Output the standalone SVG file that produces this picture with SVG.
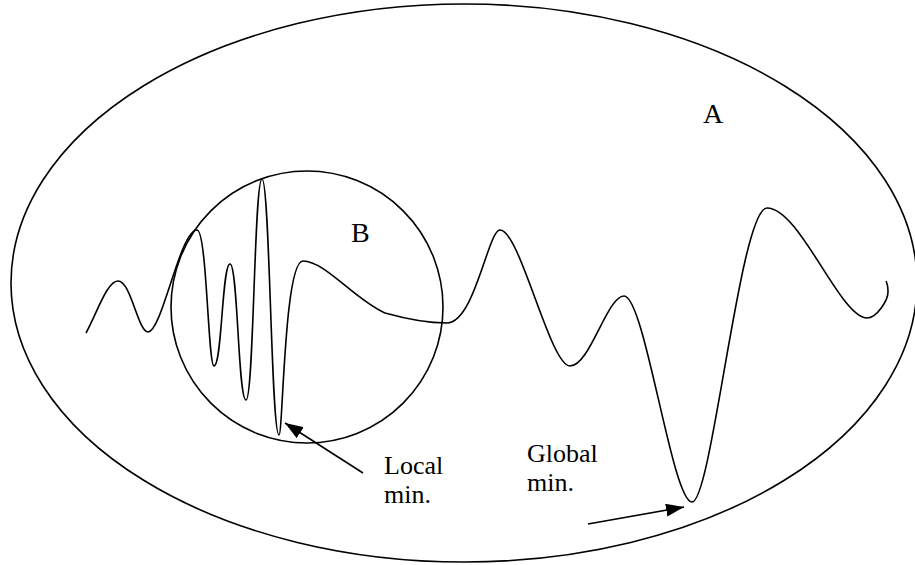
<svg xmlns="http://www.w3.org/2000/svg" width="915" height="565" viewBox="0 0 915 565">
<style>
.shape{fill:none;stroke:#000;stroke-width:1.6}
.lbl{font-family:"Liberation Serif","Times New Roman",serif;font-size:26px;fill:#000}
.big{font-size:28px}
.conn{stroke:#000;stroke-width:1.6;fill:none}
</style>
<defs>
<marker id="ah" viewBox="0 0 10 10" refX="10" refY="5" markerWidth="18" markerHeight="13" markerUnits="userSpaceOnUse" orient="auto" preserveAspectRatio="none">
<path d="M0 0 L10 5 L0 10 z" fill="#000"/>
</marker>
</defs>
<rect width="915" height="565" fill="#fff"/>
<g id="setA">
<ellipse class="shape" cx="464" cy="283" rx="453" ry="279"/>
<text class="lbl big" x="703" y="123">A</text>
</g>
<g id="setB">
<circle class="shape" cx="307" cy="307" r="136"/>
<text class="lbl big" x="351" y="242">B</text>
</g>
<g id="curve">
<path class="shape" d="M86 333 C97 313,107 281,118 281 C131 281,138 332,148 332 C162 332,180 230,197 230 C207 230,208 366,214 366 C222 366,222 264,230 264 C238 264,238 400,246 400 C254 400,254 179,262 179 C270 179,271 435,279 435 C283 435,284 261,303 261 C325 261,355 300,385 313 C410 320,430 323,447 323 C475 322,488 230,500 230 C520 230,550 366,570 366 C590 366,607 296,624 296 C645 296,672 502,692 502 C712 502,740 208,767 208 C800 208,840 318,867 318 C877 318,888 300,888 292 C888 287,887 283,886 281"/>
</g>
<g id="labels">
<text class="lbl" x="384" y="474">Local</text>
<text class="lbl" x="384" y="503">min.</text>
<text class="lbl" x="527" y="462">Global</text>
<text class="lbl" x="527" y="491">min.</text>
</g>
<g id="connectors">
<line class="conn" x1="363" y1="473" x2="285" y2="423" marker-end="url(#ah)"/>
<line class="conn" x1="588" y1="524" x2="684" y2="507" marker-end="url(#ah)"/>
</g>
</svg>
